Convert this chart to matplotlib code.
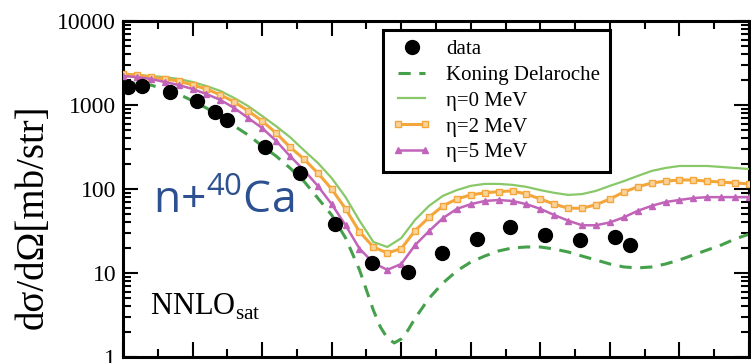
"""n + 40Ca elastic angular distribution, NNLO_sat optical potentials"""
import numpy as np
import matplotlib
matplotlib.use("Agg")
import matplotlib.pyplot as plt
from matplotlib.ticker import MultipleLocator, LogLocator, NullFormatter, FixedLocator
from matplotlib.legend_handler import HandlerLine2D

# measured cross section (deg, mb/str)
data_angle = [1.5, 5.5, 13.5, 21.3, 26.4, 30.0, 40.8, 50.9, 61.0, 71.6, 81.9,
              91.7, 101.7, 111.2, 121.3, 131.3, 141.4, 145.7]
data_xs = [1650, 1700, 1430, 1120, 830, 660, 320, 155, 38, 13.2, 10.3,
           17.5, 25.5, 35, 28, 24.5, 27, 21.5]

# Koning-Delaroche global potential
kd_angle = [0, 8, 16, 20, 24, 28, 32, 36, 40, 44, 48, 52, 56, 60, 64, 68, 72, 74,
            76, 78, 80, 82, 84, 88, 92, 96, 100, 104, 108, 112, 116, 120, 124,
            128, 132, 136, 140, 144, 148, 152, 156, 160, 164, 168, 172, 176, 180]
kd_xs = [1880, 1730, 1350, 1120, 920, 720, 562, 439, 325, 247, 178, 124, 78,
         49, 26.1, 10.9, 3.6, 2.28, 1.68, 1.47, 1.64, 2.1, 2.9, 5.0, 7.6, 10.6,
         13.5, 15.9, 18.3, 19.9, 20.4, 20.4, 19.3, 17.8, 15.9, 14.3, 12.8, 11.8,
         11.5, 11.8, 12.8, 14.3, 16.4, 18.8, 21.5, 25.4, 29]

# NNLO_sat optical potential, computed every 4 deg
calc_angle = np.arange(0, 184, 4)
eta0_xs = [2280, 2280, 2210, 2150, 2040, 1880, 1680, 1470, 1210, 970, 740, 560,
           415, 290, 205, 135, 80, 42, 23.4, 20.4, 26, 43, 63, 83, 97, 109,
           115, 115, 112, 106, 97, 90, 85, 87, 95, 109, 124, 143, 164, 178, 188,
           188, 188, 183, 178, 173]
eta2_xs = [2340, 2280, 2150, 2040, 1930, 1730, 1550, 1320, 1090, 850, 645, 464,
           316, 228, 155, 100, 58, 31, 20.4, 17.3, 19.5, 32, 46, 63, 76, 85, 90,
           93, 95, 87, 76, 66, 59, 59, 65, 76, 92, 106, 118, 124, 128, 128, 124,
           121, 118, 115]
eta5_xs = [2210, 2150, 2040, 1880, 1730, 1550, 1350, 1150, 920, 700, 532, 375,
           247, 168, 109, 66, 37, 19.5, 13.2, 10.9, 12.8, 21.5, 31.6, 45, 58, 66,
           72, 74, 72, 66, 58, 49, 42, 37, 37, 40, 46, 55, 63, 70, 74, 78, 80, 80,
           80, 80]

plt.rcParams["font.family"] = "serif"
plt.rcParams["font.serif"] = ["Liberation Serif", "DejaVu Serif"]

fig = plt.figure(figsize=(7.51, 3.63), dpi=100)
ax = fig.add_axes([123 / 751, 6 / 363, 626 / 751, 336 / 363])

ax.plot(kd_angle, kd_xs, color="#45a04b", lw=2.2, dashes=(4, 2.8),
        label="Koning Delaroche", zorder=2)
ax.plot(calc_angle, eta0_xs, color="#88c868", lw=1.6, label=r"η=0 MeV", zorder=3)
ax.plot(calc_angle, eta2_xs, color="#f4a63a", lw=2.2, marker="s", ms=4.2,
        mfc="#fbd49a", mec="#f4a63a", mew=1.0, label=r"η=2 MeV", zorder=4)
ax.plot(calc_angle, eta5_xs, color="#c163b9", lw=1.8, marker="^", ms=5,
        mfc="#c163b9", mec="#c163b9", label=r"η=5 MeV", zorder=5)
data_line, = ax.plot(data_angle, data_xs, "o", color="black", ms=10,
                     label="data", zorder=6)

ax.set_yscale("log")
ax.set_xlim(0, 180)
ax.set_ylim(1, 10000)
ax.xaxis.set_major_locator(MultipleLocator(20))
ax.xaxis.set_minor_locator(MultipleLocator(10))
ax.yaxis.set_major_locator(FixedLocator([1, 10, 100, 1000, 10000]))
ax.yaxis.set_minor_locator(LogLocator(base=10, subs=np.arange(2, 10)))
ax.yaxis.set_minor_formatter(NullFormatter())
ax.set_yticklabels(["1", "10", "100", "1000", "10000"])
ax.tick_params(which="both", direction="in", top=True, right=True,
               labelbottom=False, width=1.5, labelsize=17, pad=5)
ax.tick_params(which="major", length=11)
ax.tick_params(which="minor", length=6)
for sp in ax.spines.values():
    sp.set_linewidth(2.2)

fig.text(33 / 751, 1 - 217 / 363, "dσ/dΩ[mb/str]", fontsize=28,
         rotation=90, ha="center", va="center")

ax.text(0.048, 0.4286, r"n+$^{\mathregular{40}}$Ca", transform=ax.transAxes,
        fontsize=32, family="Open Sans", color="#2d5190", ha="left", va="baseline")
ax.text(0.043, 0.125, r"NNLO$_{\mathregular{sat}}$", transform=ax.transAxes,
        fontsize=22, ha="left", va="baseline")

handles, labels = ax.get_legend_handles_labels()
order = [4, 0, 1, 2, 3]
leg = ax.legend([handles[i] for i in order], [labels[i] for i in order],
                loc="upper left", bbox_to_anchor=(0.415, 0.973), borderaxespad=0,
                fontsize=15, handlelength=1.9, handletextpad=0.7,
                labelspacing=0.3, borderpad=0.45, fancybox=False, numpoints=2,
                framealpha=1, handler_map={data_line: HandlerLine2D(numpoints=1)})
leg.get_frame().set_edgecolor("black")
leg.get_frame().set_linewidth(2.2)

fig.savefig("out.png", dpi=100)
